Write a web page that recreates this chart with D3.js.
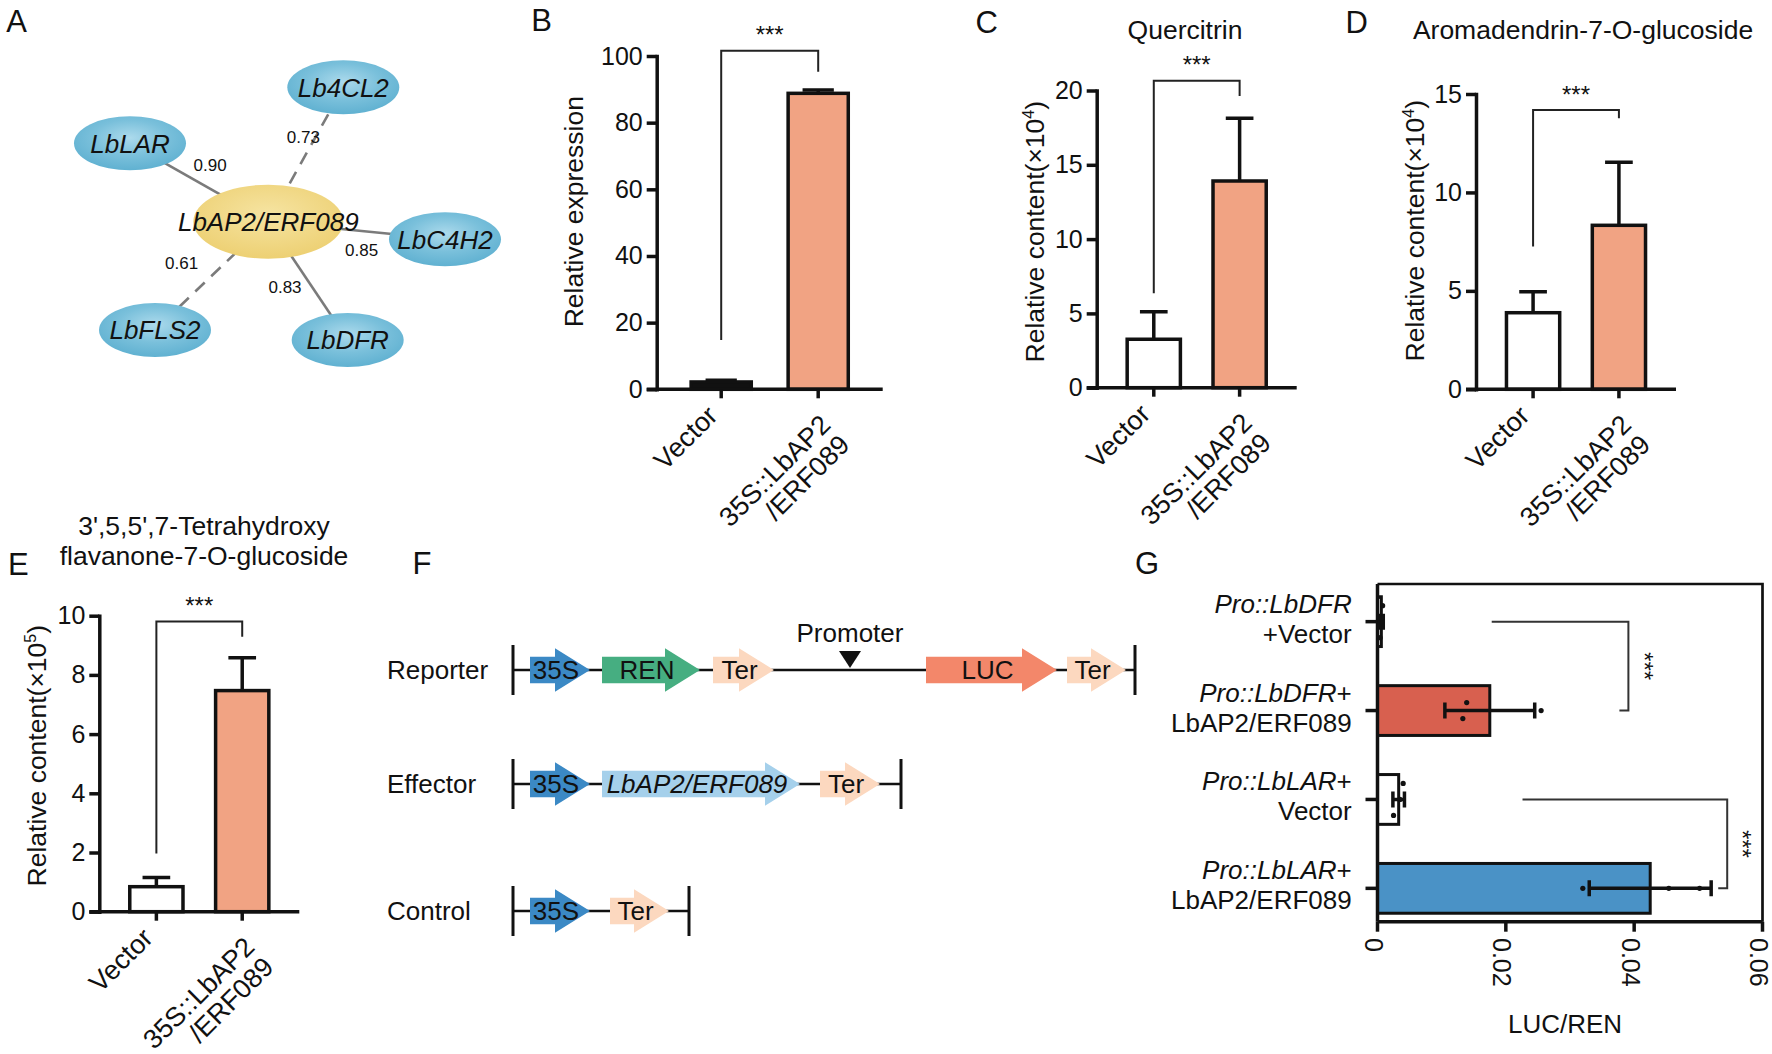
<!DOCTYPE html>
<html>
<head>
<meta charset="utf-8">
<script src="https://cdn.jsdelivr.net/npm/d3@7/dist/d3.min.js"></script>
<style>
html,body{margin:0;padding:0;background:#fff;}
svg text{font-family:"Liberation Sans",Arial,Helvetica,sans-serif;fill:#111;}
</style>
</head>
<body>
<svg id="fig" width="1772" height="1054" viewBox="0 0 1772 1054"></svg>
<script>
// ================= DATA =================
// Panel A: co-expression network
const hubGene = "LbAP2/ERF089";
const partnerGenes = ["Lb4CL2", "LbLAR", "LbC4H2", "LbFLS2", "LbDFR"];
const correlations = [0.73, 0.90, 0.85, 0.61, 0.83];

// Panels B-E: two groups
const groupNames = ["Vector", "35S::LbAP2/ERF089"];
const groupLabelLines = [["Vector"], ["35S::LbAP2", "/ERF089"]];

const expressionMean = [2.2, 88.8];
const expressionSD = [0.5, 1.0];
const expressionTicks = [0, 20, 40, 60, 80, 100];
const expressionBracket = [14.8, 101.6, 95.3];

const quercitrinMean = [3.26, 13.91];
const quercitrinSD = [1.85, 4.22];
const quercitrinTicks = [0, 5, 10, 15, 20];
const quercitrinBracket = [6.35, 20.66, 19.63];

const aromadendrinMean = [3.89, 8.33];
const aromadendrinSD = [1.07, 3.20];
const aromadendrinTicks = [0, 5, 10, 15];
const aromadendrinBracket = [7.25, 14.19, 13.77];

const tetrahydroxyMean = [0.845, 7.47];
const tetrahydroxySD = [0.31, 1.11];
const tetrahydroxyTicks = [0, 2, 4, 6, 8, 10];
const tetrahydroxyBracket = [1.97, 9.8, 9.29];

// Panel F: vector constructs (parts and schematic lengths)
const constructNames = ["Reporter", "Effector", "Control"];
const reporterParts = ["|", "-", "35S", "-", "REN", "-", "Ter", "-", "Promoter", "-", "LUC", "-", "Ter", "-", "|"];
const reporterSizes = [0, 17, 60, 12, 98, 13, 61, 76, 0, 76, 131, 10, 59, 9, 0];
const effectorParts = ["|", "-", "35S", "-", "LbAP2/ERF089", "-", "Ter", "-", "|"];
const effectorSizes = [0, 17, 60, 12, 198, 20, 60, 21, 0];
const controlParts = ["|", "-", "35S", "-", "Ter", "-", "|"];
const controlSizes = [0, 17, 60, 20, 59, 20, 0];

// Panel G: dual-luciferase
const lucCategories = ["Pro::LbDFR+Vector", "Pro::LbDFR+LbAP2/ERF089", "Pro::LbLAR+Vector", "Pro::LbLAR+LbAP2/ERF089"];
const lucLabelLines = [
  [[["Pro::LbDFR", true]], [["+Vector", false]]],
  [[["Pro::LbDFR", true], ["+", false]], [["LbAP2/ERF089", false]]],
  [[["Pro::LbLAR", true], ["+", false]], [["Vector", false]]],
  [[["Pro::LbLAR", true], ["+", false]], [["LbAP2/ERF089", false]]]
];
const lucMean = [0.0006, 0.0175, 0.0033, 0.0425];
const lucSD = [0.0003, 0.0070, 0.0009, 0.0095];
const lucPoints = [[0.0004, 0.0006, 0.0008], [0.0139, 0.0133, 0.0255], [0.0025, 0.0035, 0.0040], [0.0320, 0.0454, 0.0502]];
const lucTicks = [0, 0.02, 0.04, 0.06];
// [fromCategory, toCategory, startValue, cornerValue, endValue]
const lucBrackets = [[0, 1, 0.0178, 0.0391, 0.0377], [2, 3, 0.0226, 0.0545, 0.0531]];

// ================= STYLE / LAYOUT =================
const INK = "#111";
const SALMON = "#f1a383";
const FONT = '"Liberation Sans", Arial, Helvetica, sans-serif';
const partColors = {"35S": "#3b89c5", "REN": "#46ae81", "Ter": "#fcd8bf", "LUC": "#f3876a", "LbAP2/ERF089": "#a5d0eb"};
const lucFill = ["#ffffff", "#d8604f", "#ffffff", "#4a92c6"];

const svg = d3.select("#fig");
const defs = svg.append("defs");

function panelLetter(letter, cx, cy) {
  svg.append("text").attr("x", cx).attr("y", cy).attr("dy", "0.36em")
    .attr("text-anchor", "middle").attr("font-size", 31).text(letter);
}
function stars(x, yc, rot) {
  const t = svg.append("text").attr("text-anchor", "middle").attr("font-size", 24).attr("dy", "0.575em").text("***");
  if (rot) t.attr("transform", `translate(${x},${yc}) rotate(90)`);
  else t.attr("x", x).attr("y", yc);
}

panelLetter("A", 16.7, 20.7);
panelLetter("B", 541.7, 20);
panelLetter("C", 986.7, 21.7);
panelLetter("D", 1356.7, 21.7);
panelLetter("E", 18.3, 564);
panelLetter("F", 422, 563);
panelLetter("G", 1147, 563);

// ================= PANEL A =================
(function () {
  const center = [268.3, 221.7];
  const offsets = [[75, -134.4], [-138.3, -78.4], [176.7, 17.6], [-113.3, 108.3], [79.4, 118.3]];
  const labelShift = [[-2.5, -17.8], [11, -17.5], [5, 19.5], [-30, -12.6], [-23, 6.4]];

  const gb = defs.append("radialGradient").attr("id", "gBlue").attr("cx", "50%").attr("cy", "40%").attr("r", "60%");
  gb.append("stop").attr("offset", "0%").attr("stop-color", "#acdaec");
  gb.append("stop").attr("offset", "55%").attr("stop-color", "#7ac0db");
  gb.append("stop").attr("offset", "100%").attr("stop-color", "#60b1d1");
  const gy = defs.append("radialGradient").attr("id", "gYel").attr("cx", "50%").attr("cy", "40%").attr("r", "60%");
  gy.append("stop").attr("offset", "0%").attr("stop-color", "#f6e4a2");
  gy.append("stop").attr("offset", "100%").attr("stop-color", "#edd073");

  const g = svg.append("g");
  const nodes = partnerGenes.map((n, i) => ({name: n, r: correlations[i], x: center[0] + offsets[i][0], y: center[1] + offsets[i][1], i}));
  g.selectAll("line.edge").data(nodes).join("line")
    .attr("x1", center[0]).attr("y1", center[1]).attr("x2", d => d.x).attr("y2", d => d.y)
    .attr("stroke", "#7b7b7b").attr("stroke-width", 2.6)
    .attr("stroke-dasharray", d => d.r < 0.8 ? "13,9" : null);
  g.selectAll("text.w").data(nodes).join("text")
    .attr("x", d => (center[0] + d.x) / 2 + labelShift[d.i][0])
    .attr("y", d => (center[1] + d.y) / 2 + labelShift[d.i][1])
    .attr("dy", "0.35em").attr("text-anchor", "middle").attr("font-size", 17)
    .text(d => d.r.toFixed(2));
  g.selectAll("ellipse.node").data(nodes).join("ellipse")
    .attr("cx", d => d.x).attr("cy", d => d.y).attr("rx", 56).attr("ry", 27).attr("fill", "url(#gBlue)");
  g.selectAll("text.node").data(nodes).join("text")
    .attr("x", d => d.x).attr("y", d => d.y).attr("dy", "0.36em").attr("text-anchor", "middle")
    .attr("font-size", 26).attr("font-style", "italic").text(d => d.name);
  g.append("ellipse").attr("cx", center[0]).attr("cy", center[1]).attr("rx", 75).attr("ry", 37).attr("fill", "url(#gYel)");
  g.append("text").attr("x", center[0]).attr("y", center[1]).attr("dy", "0.36em").attr("text-anchor", "middle")
    .attr("font-size", 26).attr("font-style", "italic").text(hubGene);
})();

// ================= PANELS B-E =================
function barPanel(o) {
  const g = svg.append("g");
  const y = d3.scaleLinear().domain([0, o.max]).range([o.y0, o.yTop]);
  const x = d3.scaleBand().domain(groupNames).range([o.axisX, o.axisRight]).paddingInner(0.38).paddingOuter(0.355);
  const bw = x.bandwidth();
  const cx = i => x(groupNames[i]) + bw / 2;

  g.selectAll("rect.bar").data(o.mean).join("rect")
    .attr("x", (d, i) => x(groupNames[i])).attr("width", bw)
    .attr("y", d => y(d)).attr("height", d => o.y0 - y(d))
    .attr("fill", (d, i) => i === 0 ? (o.vectorFill || "#fff") : SALMON)
    .attr("stroke", INK).attr("stroke-width", 3.5);
  g.selectAll("path.err").data(o.mean).join("path")
    .attr("d", (d, i) => {
      const top = y(d + o.sd[i]); const cw = bw * 0.52;
      return `M${cx(i)},${y(d)}V${top}M${cx(i) - cw / 2},${top}H${cx(i) + cw / 2}`;
    })
    .attr("stroke", INK).attr("stroke-width", 3.5).attr("fill", "none");

  // y axis
  const ax = g.append("g").attr("transform", `translate(${o.axisX},0)`)
    .call(d3.axisLeft(y).tickValues(o.ticks).tickSize(10).tickSizeOuter(0).tickPadding(4));
  ax.attr("font-family", FONT).attr("font-size", 25);
  ax.select(".domain").attr("stroke", INK).attr("stroke-width", 3.5).attr("stroke-linecap", "square");
  ax.selectAll(".tick line").attr("stroke", INK).attr("stroke-width", 3.5);
  ax.selectAll(".tick text").attr("fill", INK);

  // x axis
  g.append("line").attr("x1", o.axisX - 10).attr("x2", o.axisRight).attr("y1", o.y0).attr("y2", o.y0)
    .attr("stroke", INK).attr("stroke-width", 3.5);
  g.selectAll("line.xt").data(groupNames).join("line")
    .attr("x1", (d, i) => cx(i)).attr("x2", (d, i) => cx(i)).attr("y1", o.y0).attr("y2", o.y0 + 9)
    .attr("stroke", INK).attr("stroke-width", 3.5);

  // category labels (rotated -45)
  const single = [-2, 28], double = [[14, 37], [33, 57]];
  groupLabelLines.forEach((lines, i) => {
    lines.forEach((ln, k) => {
      const off = lines.length === 1 ? single : double[k];
      g.append("text").attr("text-anchor", "end").attr("font-size", 27)
        .attr("transform", `translate(${cx(i) + off[0]},${o.y0 + off[1]}) rotate(-45)`).text(ln);
    });
  });

  // y label
  const yl = g.append("text").attr("text-anchor", "middle").attr("font-size", 26.5).attr("dy", "0.35em")
    .attr("transform", `translate(${o.labelX},${o.labelY}) rotate(-90)`);
  if (o.exp) {
    yl.append("tspan").text("Relative content(×10");
    yl.append("tspan").attr("font-size", 16).attr("dy", -10).text(o.exp);
    yl.append("tspan").attr("dy", 10).text(")");
  } else yl.text(o.ylabel);

  // title
  (o.title || []).forEach((t, k) => {
    g.append("text").attr("x", o.titleX).attr("y", o.titleY + k * 30).attr("text-anchor", "middle")
      .attr("font-size", 26.5).text(t);
  });

  // significance bracket
  const b = o.bracket;
  g.append("path").attr("d", `M${cx(0)},${y(b[0])}V${y(b[1])}H${cx(1)}V${y(b[2])}`)
    .attr("fill", "none").attr("stroke", "#222").attr("stroke-width", 2);
  stars((cx(0) + cx(1)) / 2, y(b[1]) - 21, false);
}

barPanel({axisX: 656.7, axisRight: 882.7, y0: 389.3, yTop: 56, max: 100, mean: expressionMean, sd: expressionSD,
  ticks: expressionTicks, bracket: expressionBracket, ylabel: "Relative expression", labelX: 573.3, labelY: 211.7,
  vectorFill: INK});
barPanel({axisX: 1096.7, axisRight: 1296.7, y0: 387.7, yTop: 90.5, max: 20, mean: quercitrinMean, sd: quercitrinSD,
  ticks: quercitrinTicks, bracket: quercitrinBracket, exp: "4", labelX: 1035, labelY: 231.7,
  title: ["Quercitrin"], titleX: 1185, titleY: 39.4});
barPanel({axisX: 1476, axisRight: 1676, y0: 389.3, yTop: 94, max: 15, mean: aromadendrinMean, sd: aromadendrinSD,
  ticks: aromadendrinTicks, bracket: aromadendrinBracket, exp: "4", labelX: 1415, labelY: 230.7,
  title: ["Aromadendrin-7-O-glucoside"], titleX: 1583, titleY: 39.4});
barPanel({axisX: 99.3, axisRight: 299.3, y0: 911.7, yTop: 615.7, max: 10, mean: tetrahydroxyMean, sd: tetrahydroxySD,
  ticks: tetrahydroxyTicks, bracket: tetrahydroxyBracket, exp: "5", labelX: 36.7, labelY: 755.7,
  title: ["3',5,5',7-Tetrahydroxy", "flavanone-7-O-glucoside"], titleX: 204, titleY: 535});

// ================= PANEL F =================
(function () {
  const g = svg.append("g");
  const xs = d3.scaleLinear().domain([0, 622]).range([513, 1135]);
  const rowY = [670, 784, 911];
  const sets = [[reporterParts, reporterSizes], [effectorParts, effectorSizes], [controlParts, controlSizes]];
  const h1 = 13.3, h2 = 21.7, hl = 35;
  sets.forEach(([parts, sizes], r) => {
    const cy = rowY[r];
    const starts = []; let acc = 0;
    sizes.forEach(s => { starts.push(acc); acc += s; });
    g.append("text").attr("x", 387).attr("y", cy).attr("dy", "0.35em").attr("font-size", 26).text(constructNames[r]);
    // backbone
    g.append("line").attr("x1", xs(0)).attr("x2", xs(acc)).attr("y1", cy).attr("y2", cy).attr("stroke", INK).attr("stroke-width", 2.5);
    parts.forEach((p, k) => {
      const a = xs(starts[k]), b = xs(starts[k] + sizes[k]);
      if (p === "|") {
        g.append("line").attr("x1", a).attr("x2", a).attr("y1", cy - 25).attr("y2", cy + 25).attr("stroke", INK).attr("stroke-width", 3);
      } else if (p === "Promoter") {
        g.append("path").attr("d", `M${a - 11},${cy - 19}H${a + 11}L${a},${cy - 2}Z`).attr("fill", INK);
        g.append("text").attr("x", a).attr("y", cy - 28.3).attr("text-anchor", "middle").attr("font-size", 26).text("Promoter");
      } else if (p !== "-") {
        g.append("path").attr("d", `M${a},${cy - h1}L${b - hl},${cy - h1}L${b - hl},${cy - h2}L${b},${cy}L${b - hl},${cy + h2}L${b - hl},${cy + h1}L${a},${cy + h1}Z`)
          .attr("fill", partColors[p]);
        g.append("text").attr("x", (a + b) / 2 - 4).attr("y", cy).attr("dy", "0.36em").attr("text-anchor", "middle")
          .attr("font-size", 26).attr("font-style", p === "LbAP2/ERF089" ? "italic" : null).attr("fill", "#1a1a1a").text(p);
      }
    });
  });
})();

// ================= PANEL G =================
(function () {
  const g = svg.append("g");
  const x = d3.scaleLinear().domain([0, 0.06]).range([1377.5, 1762.5]);
  const y = d3.scaleBand().domain(lucCategories).range([577.2, 932.8]).paddingInner(0.44).paddingOuter(0.22);
  const bw = y.bandwidth();
  const cy = i => y(lucCategories[i]) + bw / 2;
  const top = 584, bottom = 921.7;

  // frame (top/right)
  g.append("path").attr("d", `M${x(0)},${top}H${x(0.06)}V${bottom}`).attr("fill", "none").attr("stroke", INK).attr("stroke-width", 2.7);

  // bars
  g.selectAll("rect.bar").data(lucMean).join("rect")
    .attr("x", x(0)).attr("y", (d, i) => y(lucCategories[i])).attr("height", bw)
    .attr("width", d => x(d) - x(0)).attr("fill", (d, i) => lucFill[i])
    .attr("stroke", INK).attr("stroke-width", 3);
  // error bars
  g.selectAll("path.err").data(lucMean).join("path")
    .attr("d", (d, i) => {
      const l = x(d - lucSD[i]), r = x(d + lucSD[i]), c = cy(i);
      return `M${l},${c}H${r}M${l},${c - 8}V${c + 8}M${r},${c - 8}V${c + 8}`;
    })
    .attr("fill", "none").attr("stroke", INK).attr("stroke-width", 3.5);
  // points (spread vertically only when values are close)
  lucPoints.forEach((pts, i) => {
    const idx = pts.map((v, k) => k).sort((a, b) => pts[a] - pts[b]);
    const clusters = []; let cur = [idx[0]];
    for (let k = 1; k < idx.length; k++) {
      if (pts[idx[k]] - pts[idx[k - 1]] < 0.002) cur.push(idx[k]); else { clusters.push(cur); cur = [idx[k]]; }
    }
    clusters.push(cur);
    clusters.forEach(cl => cl.forEach((k, j) => {
      const off = ((cl.length - 1) / 2 - j) * 16;
      g.append("circle").attr("cx", x(pts[k])).attr("cy", cy(i) + off).attr("r", 2.6).attr("fill", INK);
    }));
  });

  // axes
  g.append("line").attr("x1", x(0)).attr("x2", x(0)).attr("y1", top).attr("y2", bottom).attr("stroke", INK).attr("stroke-width", 3.5);
  g.append("line").attr("x1", x(0)).attr("x2", x(0.06)).attr("y1", bottom).attr("y2", bottom).attr("stroke", INK).attr("stroke-width", 3.5);
  g.selectAll("line.yt").data(lucCategories).join("line")
    .attr("x1", x(0) - 12).attr("x2", x(0)).attr("y1", (d, i) => cy(i)).attr("y2", (d, i) => cy(i))
    .attr("stroke", INK).attr("stroke-width", 3.5);
  g.selectAll("line.xt").data(lucTicks).join("line")
    .attr("x1", d => x(d)).attr("x2", d => x(d)).attr("y1", bottom).attr("y2", bottom + 10)
    .attr("stroke", INK).attr("stroke-width", 3.5);
  g.selectAll("text.xt").data(lucTicks).join("text")
    .attr("transform", d => `translate(${x(d)},938) rotate(90)`).attr("dy", "0.5em").attr("font-size", 25)
    .text(d => d === 0 ? "0" : d.toFixed(2));
  g.append("text").attr("x", 1565).attr("y", 1033).attr("text-anchor", "middle").attr("font-size", 26).text("LUC/REN");

  // category labels
  lucLabelLines.forEach((lines, i) => {
    lines.forEach((segs, k) => {
      const t = g.append("text").attr("x", 1351.7).attr("y", cy(i) + (k === 0 ? -9 : 21)).attr("text-anchor", "end").attr("font-size", 26);
      segs.forEach(([s, it]) => t.append("tspan").attr("font-style", it ? "italic" : null).text(s));
    });
  });

  // brackets
  lucBrackets.forEach(([c0, c1, v0, v1, v2]) => {
    g.append("path").attr("d", `M${x(v0)},${cy(c0)}H${x(v1)}V${cy(c1)}H${x(v2)}`)
      .attr("fill", "none").attr("stroke", "#333").attr("stroke-width", 2);
    stars(x(v1) + 21, (cy(c0) + cy(c1)) / 2, true);
  });
})();
</script>
</body>
</html>
